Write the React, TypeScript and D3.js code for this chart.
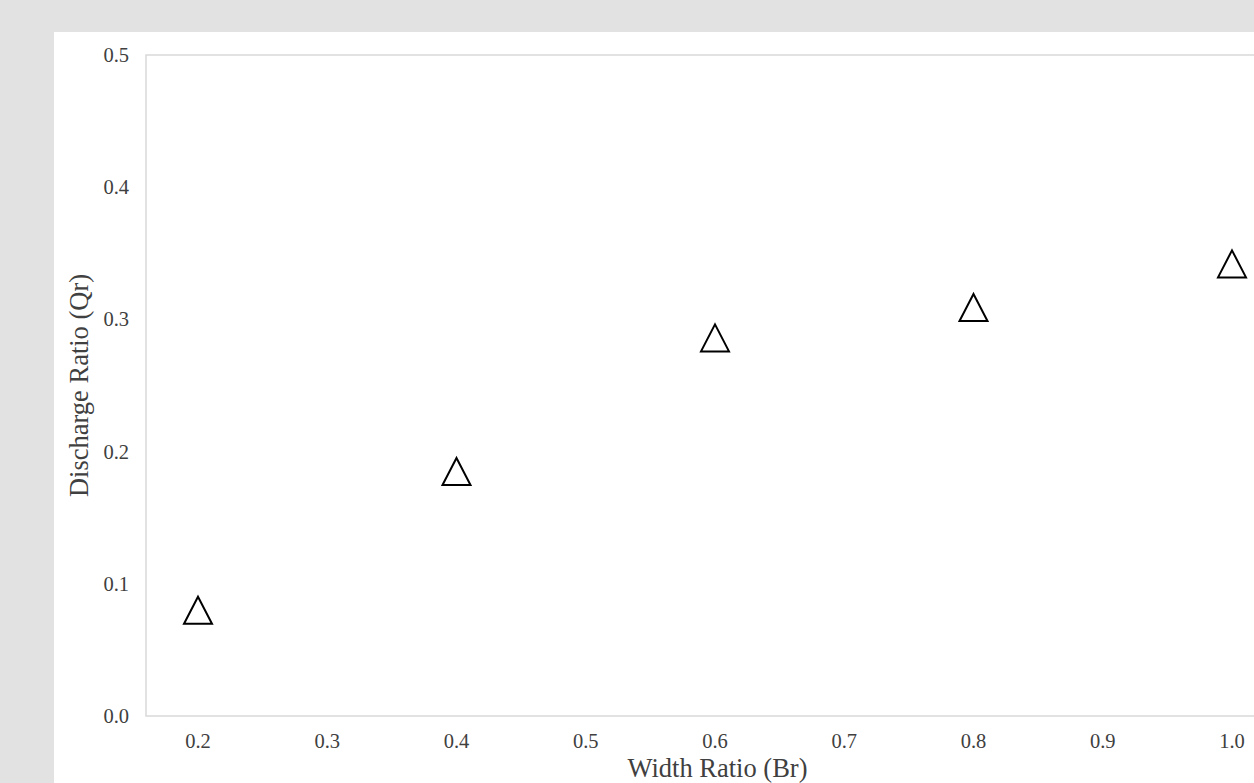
import React from 'react';

import * as d3 from 'd3';

// Data
const widthRatios = [0.2, 0.4, 0.6, 0.8, 1.0];
const dischargeRatios = [0.08, 0.185, 0.286, 0.309, 0.342];

const xTicks = [0.2, 0.3, 0.4, 0.5, 0.6, 0.7, 0.8, 0.9, 1.0];
const yTicks = [0.0, 0.1, 0.2, 0.3, 0.4, 0.5];

const xTitle = 'Width Ratio (Br)';
const yTitle = 'Discharge Ratio (Qr)';

class App extends React.Component {
  container: HTMLDivElement | null = null;

  constructor(props) {
    super(props);
    this.renderD3 = this.renderD3.bind(this);
  }

  componentDidMount() {
    this.renderD3();
  }

  componentDidUpdate() {
    this.renderD3();
  }

  renderD3() {
    // Constants
    const svgWidth = 1254;
    const svgHeight = 783;

    const plotLeft = 146;
    const plotTop = 55;
    const plotBottom = 716;
    const plotRight = 1289; // plot area runs past the picture edge

    const font = '"Liberation Serif", "Times New Roman", serif';
    const textColor = '#404040';
    const axisColor = '#d9d9d9';
    const tickSize = '20.5px';
    const titleSize = '26.5px';

    const container = this.container;
    d3.select(container).selectAll('svg').remove();

    const svg = d3.select(container)
      .append('svg')
      .attr('width', svgWidth)
      .attr('height', svgHeight)
      .style('display', 'block');

    // Backgrounds
    svg.append('rect')
      .attr('width', svgWidth)
      .attr('height', svgHeight)
      .style('fill', '#e2e2e2');

    svg.append('rect')
      .attr('x', 54)
      .attr('y', 32)
      .attr('width', svgWidth - 54)
      .attr('height', svgHeight - 32)
      .style('fill', '#ffffff');

    // Scales
    const x = d3.scaleLinear()
      .domain([0.2, 1.0])
      .range([198, 1232]);

    const y = d3.scaleLinear()
      .domain([0, 0.5])
      .range([plotBottom, plotTop]);

    // Plot frame
    svg.append('rect')
      .attr('x', plotLeft)
      .attr('y', plotTop)
      .attr('width', plotRight - plotLeft)
      .attr('height', plotBottom - plotTop)
      .style('fill', 'none')
      .style('stroke', axisColor)
      .style('stroke-width', 1.5);

    // x tick labels
    svg.append('g')
      .selectAll('text')
      .data(xTicks)
      .enter()
        .append('text')
        .text(d => d3.format('.1f')(d))
        .attr('x', d => x(d))
        .attr('y', 748)
        .attr('text-anchor', 'middle')
        .attr('font-family', font)
        .attr('font-size', tickSize)
        .style('fill', textColor);

    // y tick labels
    svg.append('g')
      .selectAll('text')
      .data(yTicks)
      .enter()
        .append('text')
        .text(d => d3.format('.1f')(d))
        .attr('x', 129)
        .attr('y', d => y(d) + 7)
        .attr('text-anchor', 'end')
        .attr('font-family', font)
        .attr('font-size', tickSize)
        .style('fill', textColor);

    // Axis titles
    svg.append('text')
      .text(xTitle)
      .attr('x', (plotLeft + plotRight) / 2)
      .attr('y', 777)
      .attr('text-anchor', 'middle')
      .attr('font-family', font)
      .attr('font-size', titleSize)
      .style('fill', textColor);

    svg.append('text')
      .text(yTitle)
      .attr('transform', `translate(88, ${(plotTop + plotBottom) / 2}) rotate(-90)`)
      .attr('text-anchor', 'middle')
      .attr('font-family', font)
      .attr('font-size', titleSize)
      .style('fill', textColor);

    // Triangle markers
    const half = 14;
    const triangle = (cx, cy) =>
      `M${cx},${cy - 13.5}L${cx + half},${cy + 13.5}L${cx - half},${cy + 13.5}Z`;

    svg.append('g')
      .selectAll('path')
      .data(widthRatios.map((w, i) => [w, dischargeRatios[i]]))
      .enter()
        .append('path')
        .attr('d', d => triangle(x(d[0]), y(d[1])))
        .style('fill', 'none')
        .style('stroke', '#000000')
        .style('stroke-width', 2)
        .style('stroke-linejoin', 'miter');
  }

  render() {
    return <div
      style={{ position: 'fixed', left: 0, top: 0, width: 1254, height: 783, overflow: 'hidden' }}
      ref={ ref => { this.container = ref; } }
    />;
  }
}

export default App;
